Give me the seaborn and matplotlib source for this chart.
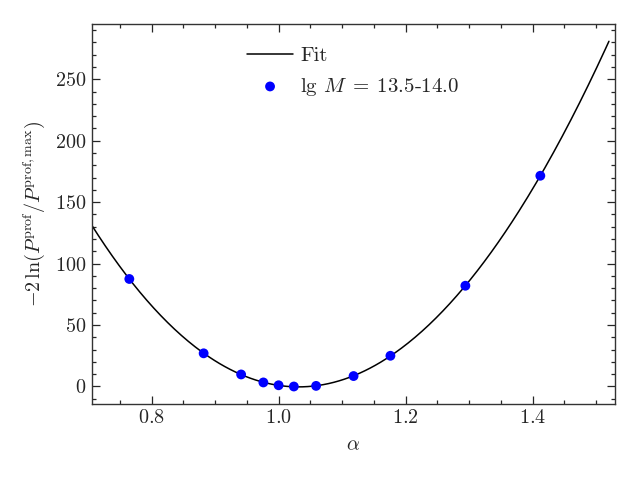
import numpy as np
import pandas as pd
import matplotlib
matplotlib.use("Agg")
import matplotlib.pyplot as plt
from matplotlib.ticker import MultipleLocator
import seaborn as sns

# profile likelihood points
alpha = [0.765, 0.882, 0.941, 0.976, 1.000, 1.024, 1.059, 1.118, 1.176, 1.294, 1.412]
chi2 = [87.5, 27.0, 9.8, 3.3, 1.0, 0.0, 0.5, 8.5, 25.0, 82.0, 171.5]
fit_range = [0.7055, 1.52]

sns.set_style("ticks")
plt.rcParams.update({
    "font.family": "serif",
    "font.serif": ["cmr10"],
    "mathtext.fontset": "cm",
    "axes.formatter.use_mathtext": True,
    "font.size": 14.5,
    "axes.linewidth": 1.0,
    "axes.edgecolor": "#333333",
    "xtick.direction": "in",
    "ytick.direction": "in",
    "xtick.top": True,
    "ytick.right": True,
    "xtick.minor.visible": True,
    "ytick.minor.visible": True,
    "xtick.major.size": 6,
    "ytick.major.size": 6,
    "xtick.minor.size": 3,
    "ytick.minor.size": 3,
    "xtick.major.width": 0.9,
    "ytick.major.width": 0.9,
    "xtick.minor.width": 0.9,
    "ytick.minor.width": 0.9,
})

df = pd.DataFrame({"alpha": alpha, "chi2": chi2})

# polynomial fit through the points
coef = np.polyfit(df["alpha"], df["chi2"], 3)
xf = np.linspace(fit_range[0], fit_range[1], 300)
fit = pd.DataFrame({"alpha": xf, "chi2": np.polyval(coef, xf)})

fig, ax = plt.subplots(figsize=(6.4, 4.8), dpi=100)
fig.subplots_adjust(left=0.143, right=0.961, bottom=0.158, top=0.95)

sns.lineplot(data=fit, x="alpha", y="chi2", color="black", linewidth=1.1,
             estimator=None, sort=False, ax=ax, label="Fit")
sns.scatterplot(data=df, x="alpha", y="chi2", color="blue", s=50,
                edgecolor="none", ax=ax, label=r"lg $M\;=\;13.5$-$14.0$", zorder=3)

ax.set_xlim(0.7055, 1.5296)
ax.xaxis.set_major_locator(MultipleLocator(0.2))
ax.xaxis.set_minor_locator(MultipleLocator(0.05))
ax.yaxis.set_major_locator(MultipleLocator(50))
ax.yaxis.set_minor_locator(MultipleLocator(10))

ax.set_xlabel(r"$\alpha$", labelpad=7)
ax.set_ylabel(r"$-2\,\ln(P^{\rm prof}/P^{\rm prof,max})$", labelpad=6)
ax.legend(loc="upper center", frameon=False, handlelength=2.2,
          handletextpad=0.35, borderaxespad=0.7, fontsize=15)

plt.savefig("out.png")
